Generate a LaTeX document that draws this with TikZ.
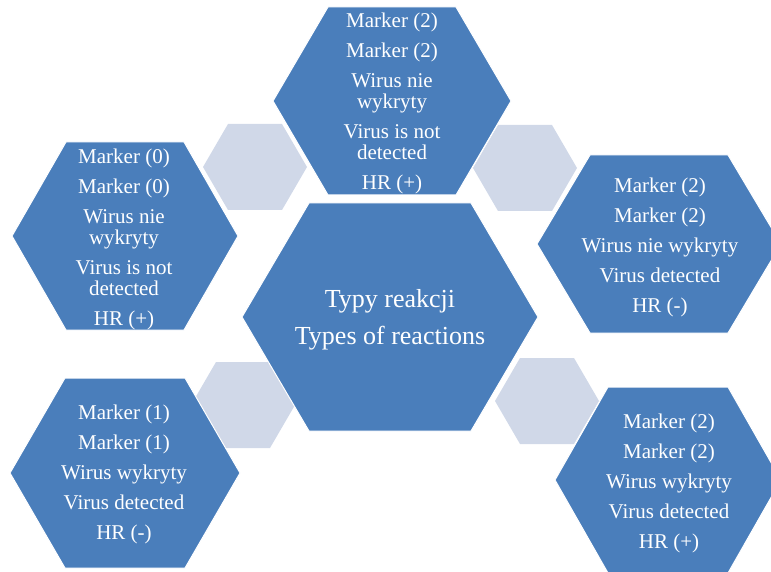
\documentclass[tikz,border=0pt]{standalone}
\usepackage{fontspec}
\setmainfont{Liberation Serif}
\definecolor{hexblue}{HTML}{4A7EBB}
\definecolor{hexgray}{HTML}{D0D8E8}
\begin{document}
\begin{tikzpicture}[x=1pt, y=-1pt,
  cell/.style={fill=hexblue, draw=white, line width=1pt},
  link/.style={fill=hexgray},
  txt/.style={text=white, align=center, font=\fontsize{21}{21}\selectfont},
  midtxt/.style={text=white, align=center, font=\fontsize{26}{37}\selectfont}]
\clip (0,0) rectangle (771,572);
% small grey hexagons
\foreach \cx/\cy in {255/167, 525/168, 243/405, 547/401}
  \fill[link] (\cx-52,\cy) -- (\cx-27,\cy-43) -- (\cx+27,\cy-43) -- (\cx+52,\cy) -- (\cx+27,\cy+43) -- (\cx-27,\cy+43) -- cycle;
% big hexagons: centre x/y, half width, half height, half top edge
\foreach \cx/\cy/\w/\h/\t in {390/317/148/114/81, 392/101/119/94/64, 125/236/113/94/59,
  659/244/122/89/69, 125/473/115/95/60, 668/480/113/93/60}
  \draw[cell] (\cx-\w,\cy) -- (\cx-\t,\cy-\h) -- (\cx+\t,\cy-\h) -- (\cx+\w,\cy) -- (\cx+\t,\cy+\h) -- (\cx-\t,\cy+\h) -- cycle;

\node[midtxt] (types) at (390,320) {Typy reakcji\\Types of reactions};
\node[txt] (top) at (392,103) {Marker (2)\\[9pt]Marker (2)\\[9pt]Wirus nie\\wykryty\\[9pt]Virus is not\\detected\\[9pt]HR (+)};
\node[txt] (left) at (124,239) {Marker (0)\\[9pt]Marker (0)\\[9pt]Wirus nie\\wykryty\\[9pt]Virus is not\\detected\\[9pt]HR (+)};
\node[txt] (right) at (660,247) {Marker (2)\\[9pt]Marker (2)\\[9pt]Wirus nie wykryty\\[9pt]Virus detected\\[9pt]HR (-)};
\node[txt] (botleft) at (124,474) {Marker (1)\\[9pt]Marker (1)\\[9pt]Wirus wykryty\\[9pt]Virus detected\\[9pt]HR (-)};
\node[txt] (botright) at (669,483) {Marker (2)\\[9pt]Marker (2)\\[9pt]Wirus wykryty\\[9pt]Virus detected\\[9pt]HR (+)};
\end{tikzpicture}
\end{document}
